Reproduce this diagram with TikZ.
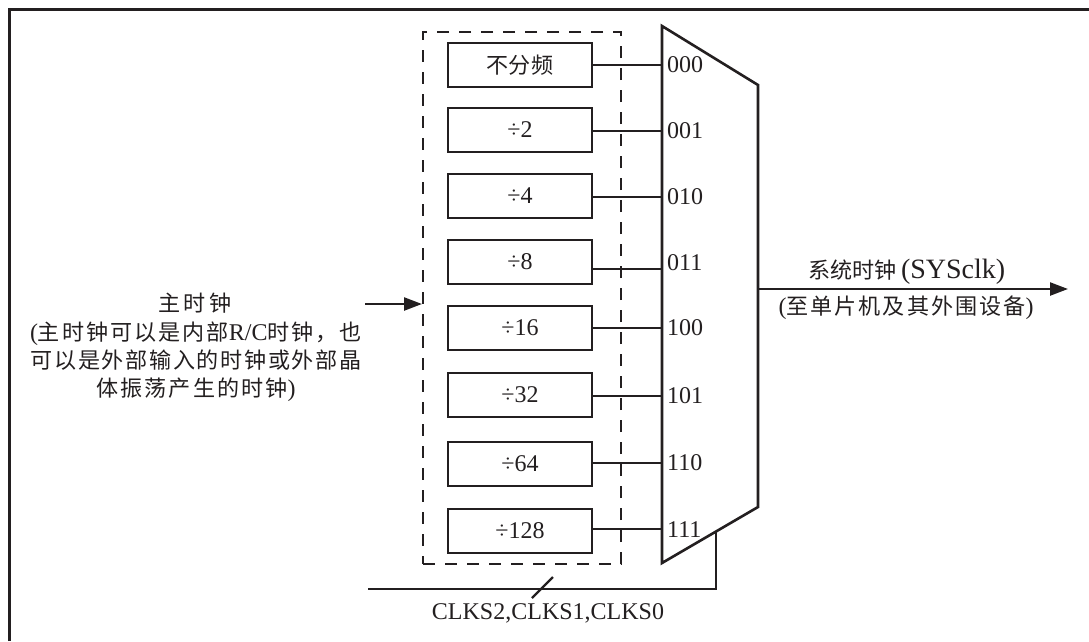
\documentclass[tikz,border=0pt]{standalone}
\usepackage{fontspec}
\setmainfont{Liberation Serif}
\newfontfamily\cjk{Noto Sans CJK SC}[Scale=0.92]
\usetikzlibrary{arrows.meta}
\definecolor{ink}{RGB}{35,31,32}
\newcommand\lat{\fontsize{24pt}{28pt}\selectfont}
\newcommand\cc[1]{{\cjk #1}}
\begin{document}
\begin{tikzpicture}[x=1pt,y=-1pt, color=ink,
  wire/.style={draw=ink, line width=2.4pt},
  divbox/.style={draw=ink, line width=2.6pt, minimum width=144pt, minimum height=44pt, inner sep=0pt, font=\lat, text=ink},
  lbl/.style={inner sep=0pt, font=\lat, text=ink},
  tip/.style={-{Triangle[length=18pt,width=13pt]}}]
\useasboundingbox (0,0) rectangle (1089,641);
% frame
\draw[draw=ink, line width=3pt] (9.5,641) -- (9.5,9.5) -- (1089,9.5);
% dashed group
\node[draw=ink, line width=2pt, dash pattern=on 12pt off 10pt, minimum width=198pt, minimum height=532pt, inner sep=0pt] (grp) at (522,298) {};
% divider boxes
\node[divbox] (b1) at (520,65) {\cc{不分频}};
\node[divbox] (b2) at (520,130) {÷2};
\node[divbox] (b3) at (520,196) {÷4};
\node[divbox] (b4) at (520,262) {÷8};
\node[divbox] (b5) at (520,328) {÷16};
\node[divbox] (b6) at (520,395) {÷32};
\node[divbox] (b7) at (520,464) {÷64};
\node[divbox] (b8) at (520,531) {÷128};
% mux
\coordinate (mtl) at (662,26);
\coordinate (mtr) at (758,85);
\coordinate (mbr) at (758,507);
\coordinate (mbl) at (662,563);
\draw[draw=ink, line width=2.6pt, line join=miter] (mtl) -- (mtr) -- (mbr) -- (mbl) -- cycle;
% mux inputs
\foreach \i/\y in {1/65,2/131,3/197,4/269,5/328,6/396,7/463,8/529}{
  \coordinate (m\i) at (662,\y);
  \draw[wire] (b\i.east |- m\i) -- (m\i);
}
\foreach \t/\y in {000/65,001/131,010/197,011/263,100/328,101/396,110/463,111/530}{
  \node[lbl, anchor=west] (l\t) at (667,\y) {\t};
}
% input arrow
\coordinate (in) at (365,304);
\draw[wire, tip] (in) -- (in -| grp.west);
% output arrow
\coordinate (mout) at (758,289);
\coordinate (out) at (1068,289);
\draw[wire, tip] (mout) -- (out);
% select line
\coordinate (sel) at (716,531.5);
\coordinate (selend) at (368,589);
\draw[wire] (sel) |- (selend);
\coordinate (s1) at (532,598);
\coordinate (s2) at (553,577);
\draw[wire] (s1) -- (s2);
% texts
\node[lbl] (main) at (195,303) {\cc{主\hspace{3pt}时\hspace{3pt}钟}};
\node[lbl, align=center] (desc) at (196,362) {%
\makebox[332pt][s]{(\cc{主}\hfil\cc{时}\hfil\cc{钟}\hfil\cc{可}\hfil\cc{以}\hfil\cc{是}\hfil\cc{内}\hfil\cc{部}R/C\cc{时}\hfil\cc{钟}\hfil\cc{，}\hfil\cc{也}}\\
\makebox[331pt][s]{\cc{可}\hfil\cc{以}\hfil\cc{是}\hfil\cc{外}\hfil\cc{部}\hfil\cc{输}\hfil\cc{入}\hfil\cc{的}\hfil\cc{时}\hfil\cc{钟}\hfil\cc{或}\hfil\cc{外}\hfil\cc{部}\hfil\cc{晶}}\\
\makebox[199pt][s]{\cc{体}\hfil\cc{振}\hfil\cc{荡}\hfil\cc{产}\hfil\cc{生}\hfil\cc{的}\hfil\cc{时}\hfil\cc{钟})}};
\node[lbl] (sys) at (907,272) {\cc{系统时钟}\hspace{4pt}{\fontsize{28pt}{28pt}\selectfont(SYSclk)}};
\node[lbl] (dev) at (906,308) {\makebox[255pt][s]{(\cc{至}\hfil\cc{单}\hfil\cc{片}\hfil\cc{机}\hfil\cc{及}\hfil\cc{其}\hfil\cc{外}\hfil\cc{围}\hfil\cc{设}\hfil\cc{备})}};
\node[lbl] (clks) at (548,613) {CLKS2,CLKS1,CLKS0};
\end{tikzpicture}
\end{document}
